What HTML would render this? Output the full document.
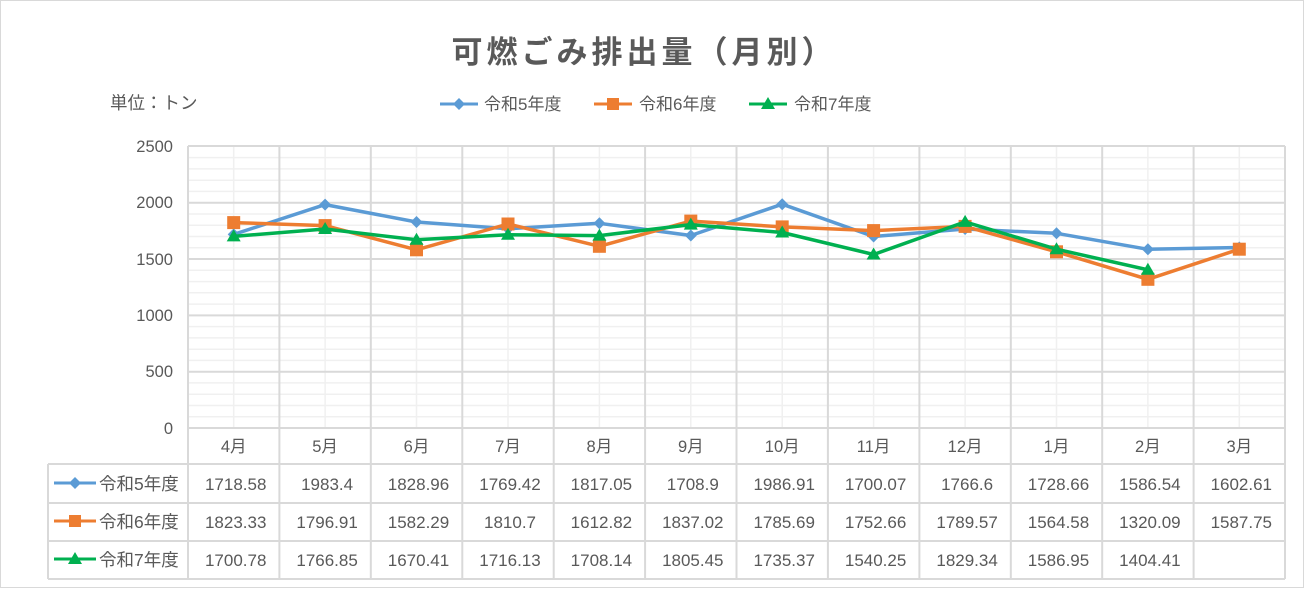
<!DOCTYPE html>
<html><head><meta charset="utf-8"><style>
body{margin:0;background:#fff}
svg{display:block;font-family:"Liberation Sans","Noto Sans CJK JP",sans-serif}
</style></head><body>
<svg width="1308" height="591" viewBox="0 0 1308 591" xmlns="http://www.w3.org/2000/svg">
<rect x="0.5" y="0.5" width="1303" height="587" fill="#fff" stroke="#d9d9d9"/>
<text x="644" y="63" text-anchor="middle" font-size="31" font-weight="bold" letter-spacing="4" fill="#595959">可燃ごみ排出量（月別）</text>
<text x="110" y="109" font-size="17.5" fill="#595959">単位：トン</text>
<g font-size="17" fill="#595959">
<line x1="440" y1="104" x2="478" y2="104" stroke="#5B9BD5" stroke-width="3"/><path d="M459 98l6 6-6 6-6-6z" fill="#5B9BD5"/><text x="484" y="110">令和5年度</text>
<line x1="594" y1="104" x2="632" y2="104" stroke="#ED7D31" stroke-width="3"/><rect x="607" y="98" width="12" height="12" fill="#ED7D31"/><text x="639" y="110">令和6年度</text>
<line x1="749" y1="104" x2="787" y2="104" stroke="#00B050" stroke-width="3"/><path d="M768 97l7 12h-14z" fill="#00B050"/><text x="794" y="110">令和7年度</text>
</g>
<g stroke="#f0f0f0" stroke-width="1.5">
<line x1="188" x2="1285" y1="416.7" y2="416.7"/><line x1="188" x2="1285" y1="405.5" y2="405.5"/><line x1="188" x2="1285" y1="394.2" y2="394.2"/><line x1="188" x2="1285" y1="382.9" y2="382.9"/>
<line x1="188" x2="1285" y1="360.4" y2="360.4"/><line x1="188" x2="1285" y1="349.2" y2="349.2"/><line x1="188" x2="1285" y1="337.9" y2="337.9"/><line x1="188" x2="1285" y1="326.6" y2="326.6"/>
<line x1="188" x2="1285" y1="304.1" y2="304.1"/><line x1="188" x2="1285" y1="292.8" y2="292.8"/><line x1="188" x2="1285" y1="281.6" y2="281.6"/><line x1="188" x2="1285" y1="270.3" y2="270.3"/>
<line x1="188" x2="1285" y1="247.8" y2="247.8"/><line x1="188" x2="1285" y1="236.5" y2="236.5"/><line x1="188" x2="1285" y1="225.2" y2="225.2"/><line x1="188" x2="1285" y1="214.0" y2="214.0"/>
<line x1="188" x2="1285" y1="191.4" y2="191.4"/><line x1="188" x2="1285" y1="180.2" y2="180.2"/><line x1="188" x2="1285" y1="168.9" y2="168.9"/><line x1="188" x2="1285" y1="157.6" y2="157.6"/>
<line x1="233.7" x2="233.7" y1="146" y2="428"/><line x1="325.1" x2="325.1" y1="146" y2="428"/><line x1="416.5" x2="416.5" y1="146" y2="428"/><line x1="508" x2="508" y1="146" y2="428"/><line x1="599.4" x2="599.4" y1="146" y2="428"/><line x1="690.8" x2="690.8" y1="146" y2="428"/><line x1="782.2" x2="782.2" y1="146" y2="428"/><line x1="873.6" x2="873.6" y1="146" y2="428"/><line x1="965.1" x2="965.1" y1="146" y2="428"/><line x1="1056.5" x2="1056.5" y1="146" y2="428"/><line x1="1147.9" x2="1147.9" y1="146" y2="428"/><line x1="1239.3" x2="1239.3" y1="146" y2="428"/>
</g>
<g stroke="#d9d9d9" stroke-width="2">
<line x1="188" x2="1285" y1="146" y2="146"/><line x1="188" x2="1285" y1="202.7" y2="202.7"/><line x1="188" x2="1285" y1="259" y2="259"/><line x1="188" x2="1285" y1="315.4" y2="315.4"/><line x1="188" x2="1285" y1="371.7" y2="371.7"/><line x1="188" x2="1285" y1="428" y2="428"/>
<line x1="188" x2="188" y1="146" y2="579"/><line x1="279.4" x2="279.4" y1="146" y2="579"/><line x1="370.8" x2="370.8" y1="146" y2="579"/><line x1="462.3" x2="462.3" y1="146" y2="579"/><line x1="553.7" x2="553.7" y1="146" y2="579"/><line x1="645.1" x2="645.1" y1="146" y2="579"/><line x1="736.5" x2="736.5" y1="146" y2="579"/><line x1="827.9" x2="827.9" y1="146" y2="579"/><line x1="919.4" x2="919.4" y1="146" y2="579"/><line x1="1010.8" x2="1010.8" y1="146" y2="579"/><line x1="1102.2" x2="1102.2" y1="146" y2="579"/><line x1="1193.6" x2="1193.6" y1="146" y2="579"/><line x1="1285" x2="1285" y1="146" y2="579"/>
<line x1="48" x2="1285" y1="464" y2="464"/><line x1="48" x2="1285" y1="503" y2="503"/><line x1="48" x2="1285" y1="541" y2="541"/><line x1="48" x2="1285" y1="579" y2="579"/><line x1="48" x2="48" y1="464" y2="579"/>
</g>
<g font-size="16.5" fill="#595959" text-anchor="end">
<text x="173" y="152">2500</text><text x="173" y="208">2000</text><text x="173" y="265">1500</text><text x="173" y="321">1000</text><text x="173" y="377">500</text><text x="173" y="434">0</text>
</g>
<g font-size="16.5" fill="#595959" text-anchor="middle">
<text x="233.7" y="452">4月</text><text x="325.1" y="452">5月</text><text x="416.5" y="452">6月</text><text x="508" y="452">7月</text><text x="599.4" y="452">8月</text><text x="690.8" y="452">9月</text><text x="782.2" y="452">10月</text><text x="873.6" y="452">11月</text><text x="965.1" y="452">12月</text><text x="1056.5" y="452">1月</text><text x="1147.9" y="452">2月</text><text x="1239.3" y="452">3月</text>
</g>
<g font-size="17" fill="#595959" text-anchor="middle">
<text x="235.7" y="490">1718.58</text><text x="327.1" y="490">1983.4</text><text x="418.5" y="490">1828.96</text><text x="510" y="490">1769.42</text><text x="601.4" y="490">1817.05</text><text x="692.8" y="490">1708.9</text><text x="784.2" y="490">1986.91</text><text x="875.6" y="490">1700.07</text><text x="967.1" y="490">1766.6</text><text x="1058.5" y="490">1728.66</text><text x="1149.9" y="490">1586.54</text><text x="1241.3" y="490">1602.61</text>
<text x="235.7" y="528">1823.33</text><text x="327.1" y="528">1796.91</text><text x="418.5" y="528">1582.29</text><text x="510" y="528">1810.7</text><text x="601.4" y="528">1612.82</text><text x="692.8" y="528">1837.02</text><text x="784.2" y="528">1785.69</text><text x="875.6" y="528">1752.66</text><text x="967.1" y="528">1789.57</text><text x="1058.5" y="528">1564.58</text><text x="1149.9" y="528">1320.09</text><text x="1241.3" y="528">1587.75</text>
<text x="235.7" y="566">1700.78</text><text x="327.1" y="566">1766.85</text><text x="418.5" y="566">1670.41</text><text x="510" y="566">1716.13</text><text x="601.4" y="566">1708.14</text><text x="692.8" y="566">1805.45</text><text x="784.2" y="566">1735.37</text><text x="875.6" y="566">1540.25</text><text x="967.1" y="566">1829.34</text><text x="1058.5" y="566">1586.95</text><text x="1149.9" y="566">1404.41</text>
</g>
<g font-size="17.5" fill="#595959">
<line x1="54" y1="483" x2="96" y2="483" stroke="#5B9BD5" stroke-width="3"/><path d="M75 477l6 6-6 6-6-6z" fill="#5B9BD5"/><text x="99" y="490">令和5年度</text>
<line x1="54" y1="521" x2="96" y2="521" stroke="#ED7D31" stroke-width="3"/><rect x="69" y="515" width="12" height="12" fill="#ED7D31"/><text x="99" y="528">令和6年度</text>
<line x1="54" y1="559" x2="96" y2="559" stroke="#00B050" stroke-width="3"/><path d="M75 552l7 12h-14z" fill="#00B050"/><text x="99" y="566">令和7年度</text>
</g>
<polyline fill="none" stroke="#5B9BD5" stroke-width="3.5" stroke-linejoin="round" points="233.7,234.4 325.1,204.6 416.5,222 508,228.7 599.4,223.3 690.8,235.5 782.2,204.2 873.6,236.5 965.1,229 1056.5,233.3 1147.9,249.3 1239.3,247.5"/>
<g fill="#5B9BD5">
<path d="M233.7 228.4l6 6-6 6-6-6z"/><path d="M325.1 198.6l6 6-6 6-6-6z"/><path d="M416.5 216l6 6-6 6-6-6z"/><path d="M508 222.7l6 6-6 6-6-6z"/><path d="M599.4 217.3l6 6-6 6-6-6z"/><path d="M690.8 229.5l6 6-6 6-6-6z"/><path d="M782.2 198.2l6 6-6 6-6-6z"/><path d="M873.6 230.5l6 6-6 6-6-6z"/><path d="M965.1 223l6 6-6 6-6-6z"/><path d="M1056.5 227.3l6 6-6 6-6-6z"/><path d="M1147.9 243.3l6 6-6 6-6-6z"/><path d="M1239.3 241.5l6 6-6 6-6-6z"/>
</g>
<polyline fill="none" stroke="#ED7D31" stroke-width="3.5" stroke-linejoin="round" points="233.7,222.6 325.1,225.6 416.5,249.8 508,224 599.4,246.3 690.8,221.1 782.2,226.9 873.6,230.6 965.1,226.4 1056.5,251.8 1147.9,279.3 1239.3,249.2"/>
<g fill="#ED7D31">
<rect x="227.2" y="216.1" width="13" height="13"/><rect x="318.6" y="219.1" width="13" height="13"/><rect x="410" y="243.3" width="13" height="13"/><rect x="501.5" y="217.5" width="13" height="13"/><rect x="592.9" y="239.8" width="13" height="13"/><rect x="684.3" y="214.6" width="13" height="13"/><rect x="775.7" y="220.4" width="13" height="13"/><rect x="867.1" y="224.1" width="13" height="13"/><rect x="958.6" y="219.9" width="13" height="13"/><rect x="1050" y="245.3" width="13" height="13"/><rect x="1141.4" y="272.8" width="13" height="13"/><rect x="1232.8" y="242.7" width="13" height="13"/>
</g>
<polyline fill="none" stroke="#00B050" stroke-width="3.5" stroke-linejoin="round" points="233.7,236.4 325.1,229 416.5,239.8 508,234.7 599.4,235.6 690.8,224.6 782.2,232.5 873.6,254.5 965.1,221.9 1056.5,249.2 1147.9,269.8"/>
<g fill="#00B050">
<path d="M233.7 229.4l7 12h-14z"/><path d="M325.1 222l7 12h-14z"/><path d="M416.5 232.8l7 12h-14z"/><path d="M508 227.7l7 12h-14z"/><path d="M599.4 228.6l7 12h-14z"/><path d="M690.8 217.6l7 12h-14z"/><path d="M782.2 225.5l7 12h-14z"/><path d="M873.6 247.5l7 12h-14z"/><path d="M965.1 214.9l7 12h-14z"/><path d="M1056.5 242.2l7 12h-14z"/><path d="M1147.9 262.8l7 12h-14z"/>
</g>
</svg>
</body></html>
